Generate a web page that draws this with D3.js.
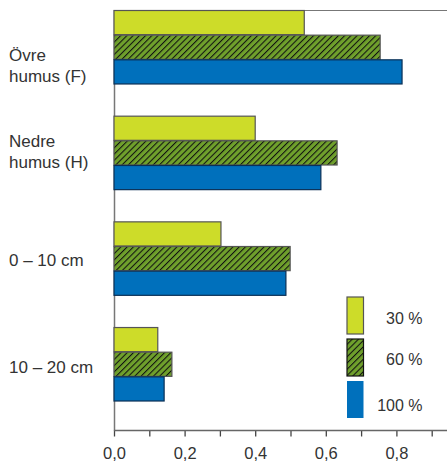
<!DOCTYPE html>
<html><head><meta charset="utf-8">
<script src="https://cdn.jsdelivr.net/npm/d3@7"></script>
<style>body{margin:0;background:#fff}svg{display:block;font-family:"Liberation Sans",Arial,sans-serif}</style>
</head><body><svg id="c" width="447" height="462"></svg>
<script>
const categories = [["Övre","humus (F)"],["Nedre","humus (H)"],["0 – 10 cm"],["10 – 20 cm"]];
const series = ["30 %","60 %","100 %"];
const v30  = [0.539, 0.400, 0.303, 0.124];
const v60  = [0.754, 0.632, 0.499, 0.164];
const v100 = [0.816, 0.586, 0.487, 0.142];
const tickValues = [0,0.1,0.2,0.3,0.4,0.5,0.6,0.7,0.8,0.9];

const svg = d3.select("#c");
const defs = svg.append("defs");
const ps = 4.4;
const pat = defs.append("pattern").attr("id","hatch").attr("patternUnits","userSpaceOnUse")
  .attr("width",ps).attr("height",ps).attr("patternTransform","rotate(45)");
pat.append("rect").attr("width",ps).attr("height",ps).attr("fill","#6fa02c");
pat.append("line").attr("x1",0).attr("y1",0).attr("x2",0).attr("y2",ps).attr("stroke","#111").attr("stroke-width",2.1);

const fills = ["#cddc29","url(#hatch)","#0070bc"];
const strokes = ["#555","#555","#0a2f55"];
const vals = [v30, v60, v100];

const x = d3.scaleLinear().domain([0,0.9]).range([114,431.7]);
const y = d3.scaleBand().domain(d3.range(categories.length)).range([10,401]).paddingInner(0.3).paddingOuter(0);
const ys = d3.scaleBand().domain(d3.range(series.length)).range([0,y.bandwidth()]);

svg.append("line").attr("x1",114).attr("x2",447).attr("y1",10.5).attr("y2",10.5).attr("stroke","#777").attr("stroke-width",1.2);
svg.append("line").attr("x1",114.5).attr("x2",114.5).attr("y1",10).attr("y2",431).attr("stroke","#777").attr("stroke-width",1.5);

categories.forEach((c,i)=>{
  series.forEach((s,j)=>{
    svg.append("rect").attr("x",x(0)).attr("y",y(i)+ys(j)+0.5)
      .attr("width",x(vals[j][i])-x(0)).attr("height",ys.bandwidth()-0.5)
      .attr("fill",fills[j]).attr("stroke",strokes[j]).attr("stroke-width",1.2);
  });
});

const axis = d3.axisBottom(x).tickValues(tickValues).tickSize(6)
  .tickFormat(d => (Math.round(d*10)%2===0) ? d3.format(".1f")(d).replace(".",",") : "");
const g = svg.append("g").attr("transform","translate(0,430.5)").call(axis);
g.select(".domain").remove();
g.append("line").attr("x1",114).attr("x2",447).attr("stroke","#666").attr("stroke-width",1.3);
g.selectAll(".tick line").attr("stroke","#444").attr("stroke-width",1.3);
g.selectAll(".tick text").attr("fill","#333").attr("font-size",16.5).attr("dy",0).attr("y",28.5)
  .attr("font-family","'Liberation Sans',Arial,sans-serif");

const labelOffset = [51, 31, 44.5, 46];
categories.forEach((c,i)=>{
  c.forEach((line,k)=>{
    svg.append("text").attr("x",9).attr("y",y(i) + labelOffset[i] + k*21)
      .attr("fill","#333").attr("font-size",17).text(line);
  });
});

const lg = svg.append("g");
const legendBase = [324, 365, 411];
series.forEach((s,j)=>{
  const ly = 297 + j*42;
  lg.append("rect").attr("x",347).attr("y",ly).attr("width",16.5).attr("height",37)
    .attr("fill",fills[j]).attr("stroke",j===2?"none":(j===1?"#111":strokes[j])).attr("stroke-width",1.2);
  lg.append("text").attr("x",422.5).attr("y",legendBase[j]).attr("text-anchor","end")
    .attr("fill","#333").attr("font-size",16).text(s);
});
</script></body></html>
